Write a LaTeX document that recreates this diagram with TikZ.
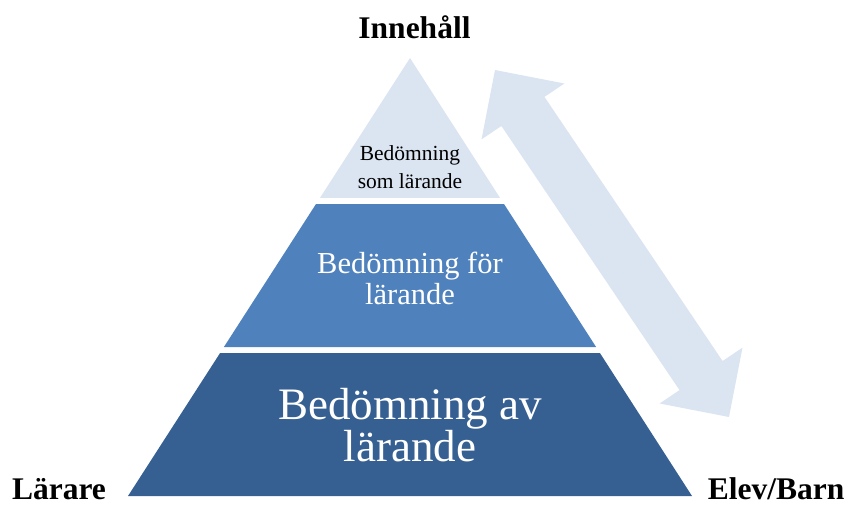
\documentclass[tikz,border=0pt]{standalone}
\usepackage{fontspec}
\setmainfont{Liberation Serif}
\definecolor{lightblue}{RGB}{219,229,241}
\definecolor{midblue}{RGB}{79,129,189}
\definecolor{darkblue}{RGB}{55,96,146}
\begin{document}
\begin{tikzpicture}[x=1pt,y=-1pt,
  lvl/.style={align=center,inner sep=0pt},
  corner/.style={font=\fontsize{31.5}{33}\selectfont\bfseries,anchor=base,inner sep=0pt}]
\useasboundingbox (0,0) rectangle (848,505);
% pyramid segments
\fill[lightblue] (410,58) -- (500.1,198) -- (319.9,198) -- cycle;
\fill[midblue] (316,204) -- (504,204) -- (596.1,347) -- (223.9,347) -- cycle;
\fill[darkblue] (220.1,353) -- (599.9,353) -- (692,496) -- (128,496) -- cycle;
% double arrow
\fill[lightblue] (495,70) -- (564.4,83.5) -- (544.5,96.9) -- (722.6,361.0) -- (742.5,347.6)
  -- (729,417) -- (659.6,403.5) -- (679.5,390.1) -- (501.4,126.0) -- (481.5,139.4) -- cycle;
% texts
\node[lvl,font=\fontsize{21.5}{28}\selectfont] (top) at (410,167) {Bedömning\\som lärande};
\node[lvl,font=\fontsize{30.5}{31}\selectfont,text=white] (mid) at (410,278) {Bedömning för\\lärande};
\node[lvl,font=\fontsize{45}{42}\selectfont,text=white] (bot) at (410,425) {Bedömning av\\lärande};
\node[corner] (inn) at (414.5,39) {Innehåll};
\node[corner] (lar) at (59,499) {Lärare};
\node[corner] (elev) at (776,499) {Elev/Barn};
\end{tikzpicture}
\end{document}
